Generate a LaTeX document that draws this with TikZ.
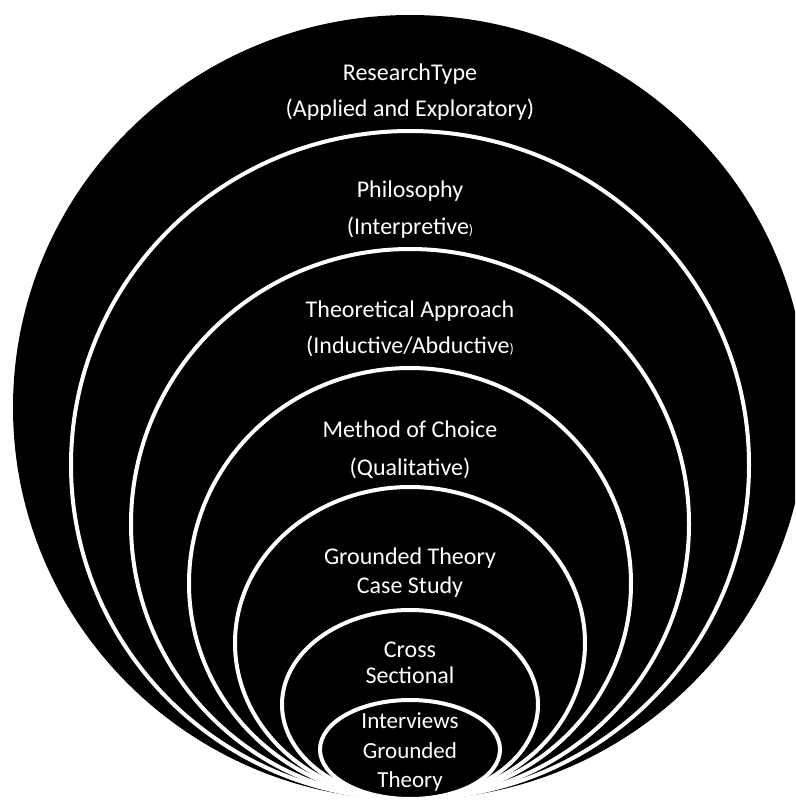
\documentclass[tikz,border=0pt]{standalone}
\usepackage{fontspec}
\setmainfont{Carlito}
\begin{document}
\begin{tikzpicture}[x=1pt,y=-1pt,
  ring/.style={fill=black,draw=white,line width=4pt},
  lbl/.style={text=white,font=\fontsize{24}{28}\selectfont,anchor=base,inner sep=0pt},
  lblsmall/.style={lbl,font=\fontsize{23}{27}\selectfont}]
\useasboundingbox (0,0) rectangle (795,803);
\clip (0,0) rectangle (795,803);
% nested layers, outermost first
\fill[black] (410,407.5) ellipse [x radius=397, y radius=392.5];
\path[ring] (410,465)   ellipse [x radius=339, y radius=334];
\path[ring] (410,524)   ellipse [x radius=279, y radius=275];
\path[ring] (410,583.5) ellipse [x radius=221, y radius=215.5];
\path[ring] (410,643)   ellipse [x radius=175, y radius=156];
\path[ring] (410,704.5) ellipse [x radius=128, y radius=94.5];
\path[ring] (410,749.5) ellipse [x radius=90,  y radius=49.5];
% labels
\newcommand{\smallparen}{{\fontsize{14}{16}\selectfont)}}
\node[lbl] (rt1) at (410,80)  {ResearchType};
\node[lbl] (rt2) at (410,116) {(Applied and Exploratory)};
\node[lbl] (ph1) at (410,197) {Philosophy};
\node[lbl] (ph2) at (410,234) {(Interpretive\smallparen};
\node[lbl] (ta1) at (410,317) {Theoretical Approach};
\node[lbl] (ta2) at (410,353) {(Inductive/Abductive\smallparen};
\node[lbl] (mc1) at (410,437) {Method of Choice};
\node[lbl] (mc2) at (410,475) {(Qualitative)};
\node[lbl] (gt1) at (410,564) {Grounded Theory};
\node[lbl] (gt2) at (410,593) {Case Study};
\node[lbl] (cs1) at (410,657) {Cross};
\node[lbl] (cs2) at (410,683) {Sectional};
\node[lblsmall] (iv1) at (410,728) {Interviews};
\node[lblsmall] (iv2) at (410,758) {Grounded};
\node[lblsmall] (iv3) at (410,787) {Theory};
\end{tikzpicture}
\end{document}
